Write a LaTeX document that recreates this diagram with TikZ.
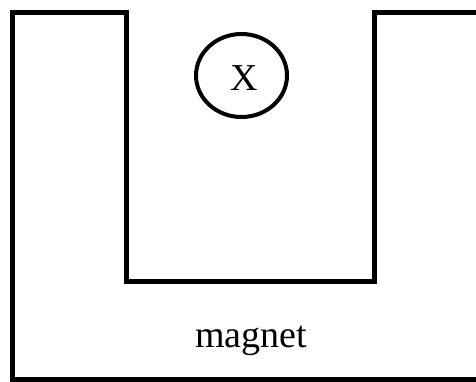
\documentclass[tikz,border=0pt]{standalone}
\usepackage{fontspec}
\setmainfont{Liberation Serif}
\begin{document}
\begin{tikzpicture}[x=1pt,y=-1pt,
  magline/.style={line width=5pt,line join=miter},
  lbl/.style={font=\fontsize{38}{40}\selectfont,inner sep=0pt}]
\useasboundingbox (0,0) rectangle (476,381);
\clip (0,0) rectangle (476,381);
\coordinate (bl) at (12,379);
\coordinate (tl) at (12,12.5);
\coordinate (al) at (126,12.5);
\coordinate (il) at (126,281);
\coordinate (ir) at (374,281);
\coordinate (ar) at (374,12.5);
\coordinate (tr) at (490,12.5);
\coordinate (br) at (490,379);
\draw[magline] (tr) -- (ar) -- (ir) -- (il) -- (al) -- (tl) -- (bl) -- (br);
\draw[line width=4pt] (241.5,75.5) ellipse [x radius=45.5, y radius=41.5];
\node[lbl,anchor=base] (x) at (244,90) {X};
\node[lbl,anchor=base] (m) at (251,347) {magnet};
\end{tikzpicture}
\end{document}
